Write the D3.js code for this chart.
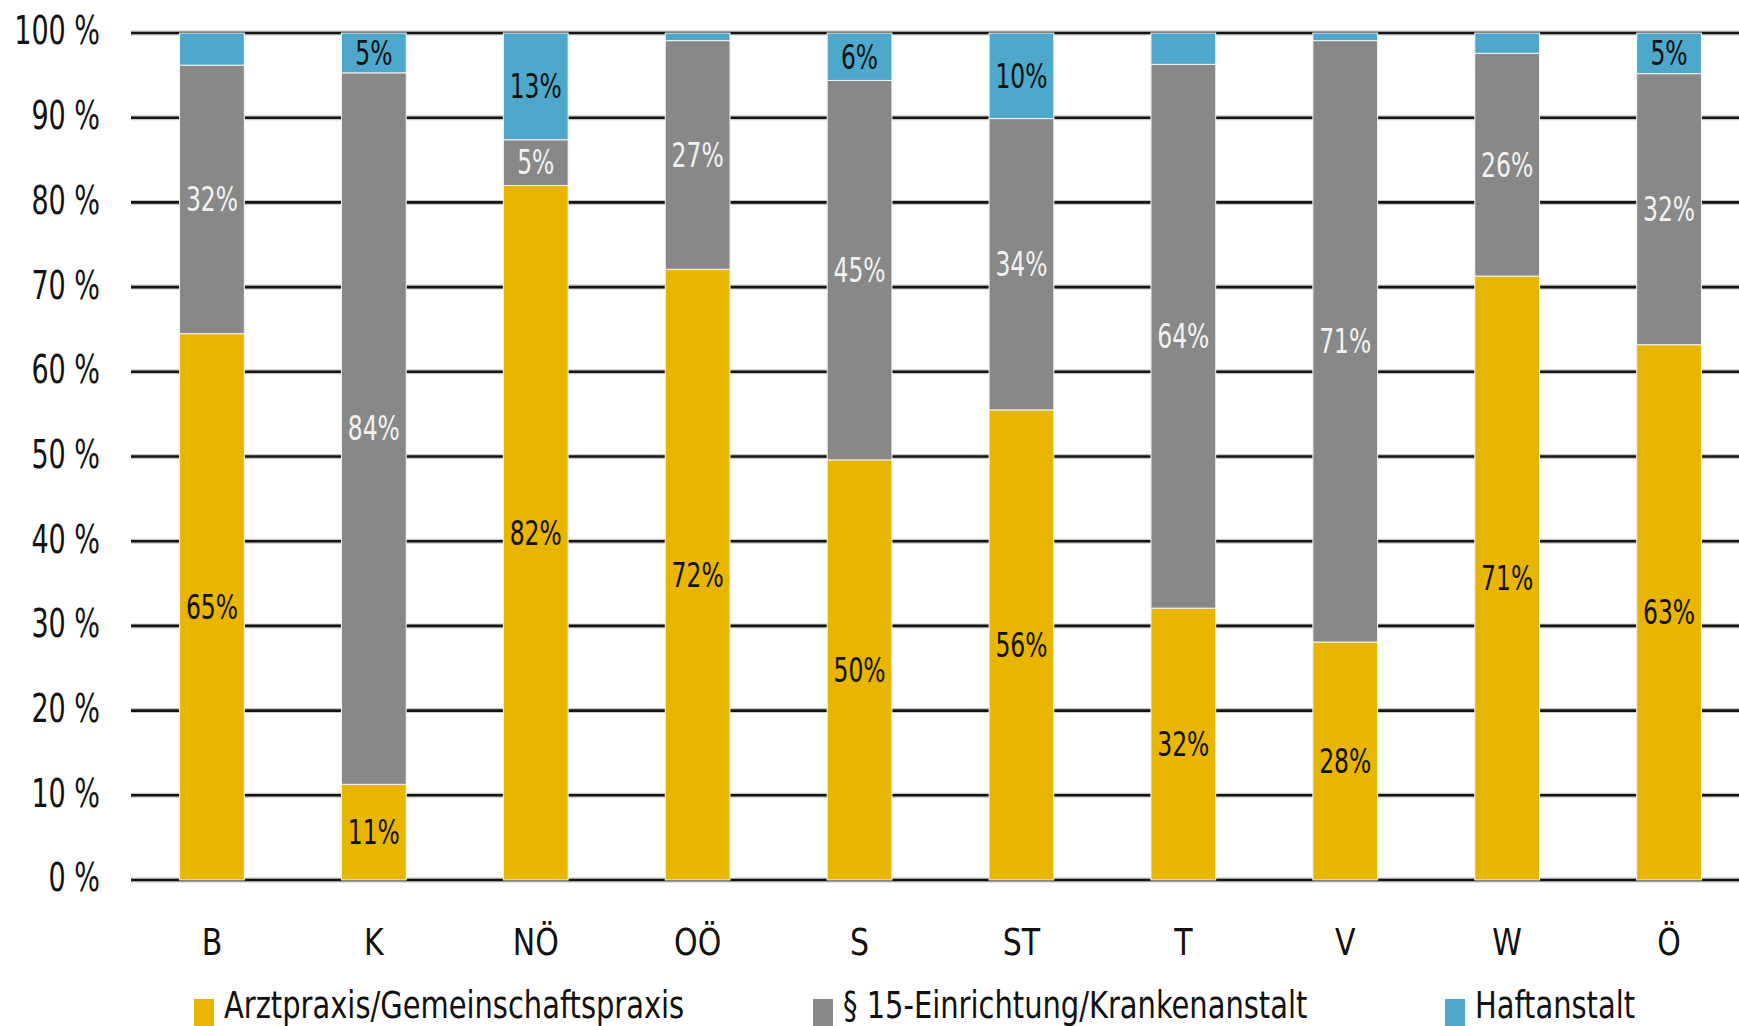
<!DOCTYPE html>
<html><head><meta charset="utf-8">
<script src="https://cdn.jsdelivr.net/npm/d3@7"></script>
<style>body{margin:0;background:#fff}svg{display:block}</style>
</head><body>
<script>
const categories = ["B","K","NÖ","OÖ","S","ST","T","V","W","Ö"];
const seriesNames = ["Arztpraxis/Gemeinschaftspraxis","§ 15-Einrichtung/Krankenanstalt","Haftanstalt"];
const arztpraxis  = [64.5,11.3,82.0,72.1,49.6,55.5,32.1,28.1,71.3,63.2];
const einrichtung = [31.7,84.0, 5.4,27.0,44.8,34.4,64.2,71.0,26.3,32.0];
const haftanstalt = [ 3.8, 4.7,12.6, 0.9, 5.6,10.1, 3.7, 0.9, 2.4, 4.8];
const yTicks = [0,10,20,30,40,50,60,70,80,90,100];
const colors = ["#E8B500","#888888","#4DA8CB"];
const labelColors = ["#111","#f2f2f2","#111"];

const W = 1739, H = 1026;
const FONT = "'Liberation Sans Narrow','DejaVu Sans Condensed','Arial Narrow',sans-serif";
const svg = d3.select("body").append("svg").attr("width", W).attr("height", H)
  .style("font-family", FONT);

const rows = categories.map((c,i)=>({cat:c, a:arztpraxis[i], e:einrichtung[i], h:haftanstalt[i]}));
const keys = ["a","e","h"];
const stacked = d3.stack().keys(keys)(rows);

const x = d3.scaleBand().domain(categories).range([131, 1750]).paddingInner(0.6).paddingOuter(0.3);
const y = d3.scaleLinear().domain([0,100]).range([880, 33]);

// gridlines
const grid = svg.append("g");
grid.selectAll("line.halo").data(yTicks).join("line").attr("class","halo")
  .attr("x1",131).attr("x2",W).attr("y1",d=>y(d)).attr("y2",d=>y(d))
  .attr("stroke","#c8c8c8").attr("stroke-width",5);
grid.selectAll("line.core").data(yTicks).join("line").attr("class","core")
  .attr("x1",131).attr("x2",W).attr("y1",d=>y(d)).attr("y2",d=>y(d))
  .attr("stroke","#141414").attr("stroke-width",2.6);

// y axis labels
const yAxis = d3.axisLeft(y).tickValues(yTicks).tickSize(0).tickPadding(0).tickFormat(d=>d+" %");
const ya = svg.append("g").attr("transform","translate(100,0)").call(yAxis);
ya.select(".domain").remove();
ya.selectAll("text").attr("font-family",FONT).attr("font-size",39).attr("fill","#111")
  .attr("x",0).attr("dy","0.28em").attr("transform","scale(0.77,1)");

// bars
stacked.forEach((layer,li)=>{
  const g = svg.append("g");
  g.selectAll("rect").data(layer).join("rect")
    .attr("x",d=>x(d.data.cat)).attr("width",x.bandwidth())
    .attr("y",d=>y(d[1])).attr("height",d=>y(d[0])-y(d[1]))
    .attr("fill",colors[li]).attr("stroke","#f4f4f4").attr("stroke-width",1);
  g.selectAll("g.lbl").data(layer.filter(d=>d[1]-d[0]>=4.5)).join("g").attr("class","lbl")
    .attr("transform",d=>`translate(${x(d.data.cat)+x.bandwidth()/2},${y((d[0]+d[1])/2)}) scale(0.79,1)`)
    .append("text")
    .attr("dy","0.36em").attr("text-anchor","middle")
    .attr("font-size",33).attr("fill",labelColors[li])
    .text(d=>Math.round(d[1]-d[0])+"%");
});

// x axis labels
const xAxis = d3.axisBottom(x).tickSize(0).tickPadding(0);
const xa = svg.append("g").attr("transform","translate(0,955)").call(xAxis);
xa.select(".domain").remove();
xa.selectAll("text").attr("font-family",FONT).attr("font-size",37).attr("fill","#111")
  .attr("y",0).attr("dy","0").attr("transform","scale(0.9,1)");

// legend
const legX = [194, 813, 1445];
const leg = svg.append("g");
seriesNames.forEach((n,i)=>{
  leg.append("rect").attr("x",legX[i]).attr("y",999).attr("width",20).attr("height",27).attr("fill",colors[i]);
  leg.append("g").attr("transform",`translate(${legX[i]+30},1018) scale(0.87,1)`)
    .append("text").attr("font-size",37).attr("fill","#111").text(n);
});
</script>
</body></html>
